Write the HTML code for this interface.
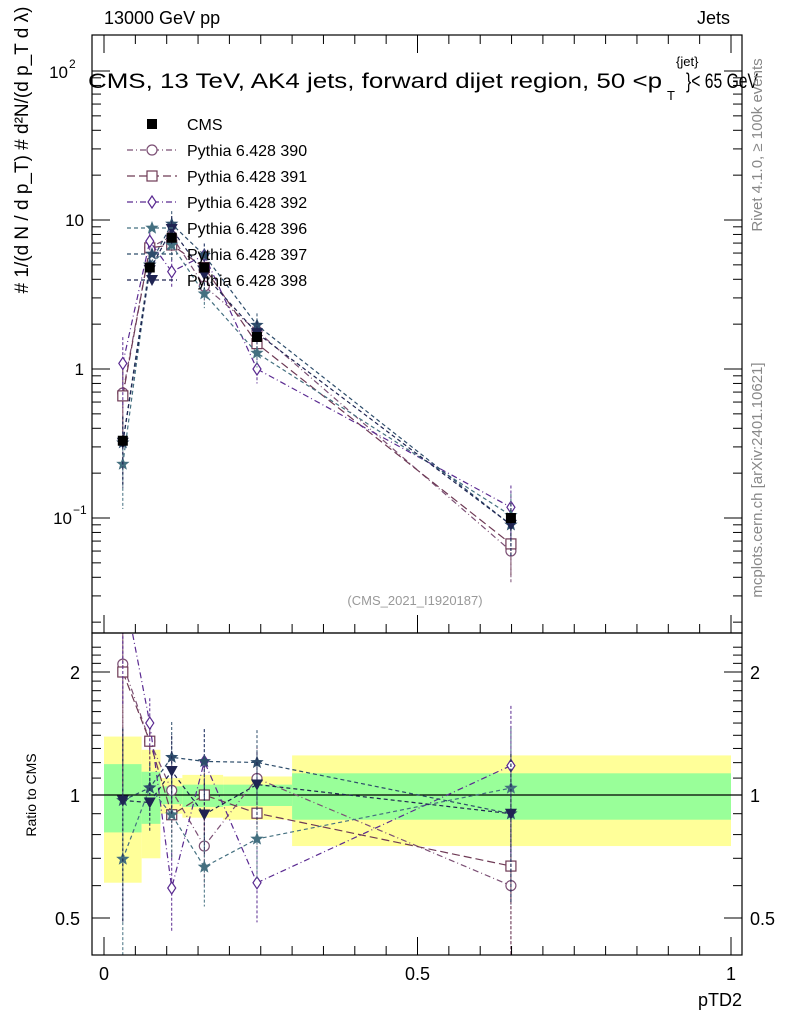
<!DOCTYPE html>
<html><head><meta charset="utf-8"><style>
body{margin:0;background:#fff;}
svg{font-family:"Liberation Sans",sans-serif;}
</style></head><body>
<svg id="c" width="786" height="1024"></svg>
<script>
const xs=[0.030,0.073,0.108,0.160,0.244,0.649];
const cmsVals=[0.33,4.8,7.6,4.8,1.64,0.10];
const cmsErr=[0.03,0.3,0.5,0.3,0.1,0.008];
const names=["Pythia 6.428 390","Pythia 6.428 391","Pythia 6.428 392","Pythia 6.428 396","Pythia 6.428 397","Pythia 6.428 398"];
const v390=[0.69,6.5,7.8,3.6,1.8,0.060];
const v391=[0.66,6.5,6.8,4.8,1.48,0.067];
const v392=[1.09,7.2,4.5,5.8,1.0,0.118];
const v396=[0.23,5.0,6.8,3.2,1.28,0.104];
const v397=[0.32,5.0,9.4,5.8,1.97,0.090];
const v398=[0.32,4.6,8.7,4.3,1.74,0.090];
const relErr=[0.5,0.15,0.22,0.2,0.2,0.4];
const binEdges=[0,0.06,0.09,0.125,0.19,0.3,1.0];
const yellowHi=[1.39,1.29,1.10,1.12,1.11,1.25];
const yellowLo=[0.61,0.70,0.90,0.88,0.87,0.75];
const greenHi=[1.19,1.14,1.05,1.06,1.06,1.13];
const greenLo=[0.81,0.85,0.95,0.935,0.94,0.87];
const xTicks=[0,0.5,1];
const xTickLabels=["0","0.5","1"];

const series=[v390,v391,v392,v396,v397,v398];
const colors=["#7b4f74","#6e3a55","#5a2a91","#447080","#2e4d6b","#1f2452"];
const dashes=["6,3,1,3","8,4","6,3,1,3","4,3","4,3","4,3"];
const markers=["circle","square","diamond","star","star","tri"];

const L=92,R=742,T=35,MB=633,RB=955;
const X=v=>104+627*v;
const Y=v=>369-149*Math.log10(v);
const YR=r=>795-408.6*Math.log10(r);
const svg=document.getElementById('c');
const NS="http://www.w3.org/2000/svg";
function mk(tag,attrs,parent,name){const e=document.createElementNS(NS,tag);for(const k in attrs)e.setAttribute(k,attrs[k]);


(parent||svg).appendChild(e);return e;}
function txt(s,x,y,opts,name){const t=mk('text',Object.assign({x:x,y:y,'font-size':16},opts||{}),svg,name);t.textContent=s;return t;}

const defs=mk('defs',{},svg,'defs');
const c1=mk('clipPath',{id:'cm'},defs,'clip-main');mk('rect',{x:L,y:T,width:R-L,height:MB-T},c1,'clip-rect');
const c2=mk('clipPath',{id:'cr'},defs,'clip-ratio');mk('rect',{x:L,y:MB,width:R-L,height:RB-MB},c2,'clip-rect');

const gR=mk('g',{'clip-path':'url(#cr)'},svg,'ratio-plot');
for(let i=0;i<6;i++){
 const x0=X(binEdges[i]),x1=X(binEdges[i+1]);
 mk('rect',{x:x0,y:YR(yellowHi[i]),width:x1-x0,height:YR(yellowLo[i])-YR(yellowHi[i]),fill:'#ffff99'},gR,'yellow-band');
 mk('rect',{x:x0,y:YR(greenHi[i]),width:x1-x0,height:YR(greenLo[i])-YR(greenHi[i]),fill:'#99ff99'},gR,'green-band');
}
mk('line',{x1:L,x2:R,y1:YR(1),y2:YR(1),stroke:'#000','stroke-width':1.3},gR,'unity-line');

function marker(g,type,x,y,col){
 const s=5;
 if(type==='circle')mk('circle',{cx:x,cy:y,r:s,fill:'#fff',stroke:col,'stroke-width':1.2},g,'marker');
 else if(type==='square')mk('rect',{x:x-s,y:y-s,width:2*s,height:2*s,fill:'#fff',stroke:col,'stroke-width':1.2},g,'marker');
 else if(type==='diamond')mk('polygon',{points:`${x},${y-6} ${x+4},${y} ${x},${y+6} ${x-4},${y}`,fill:'#fff',stroke:col,'stroke-width':1.2},g,'marker');
 else if(type==='tri')mk('polygon',{points:`${x-6},${y-5} ${x+6},${y-5} ${x},${y+6}`,fill:col},g,'marker');
 else if(type==='star'){let p=[];for(let k=0;k<10;k++){const a=-Math.PI/2+k*Math.PI/5,rr=k%2?3:7;p.push((x+rr*Math.cos(a)).toFixed(1)+','+(y+rr*Math.sin(a)).toFixed(1));}
  mk('polygon',{points:p.join(' '),fill:col},g,'marker');}
 else if(type==='fsquare')mk('rect',{x:x-5,y:y-5,width:10,height:10,fill:col},g,'marker');
}

const gM=mk('g',{'clip-path':'url(#cm)'},svg,'main-plot');
series.forEach((vals,si)=>{
 const col=colors[si];
 const gs=mk('g',{},gM,'series-'+names[si].split(' ')[2]);
 const gr=mk('g',{},gR,'ratio-series-'+names[si].split(' ')[2]);
 mk('polyline',{points:xs.map((x,i)=>X(x)+','+Y(vals[i])).join(' '),fill:'none',stroke:col,'stroke-dasharray':dashes[si],'stroke-width':1.2},gs,'series-line');
 mk('polyline',{points:xs.map((x,i)=>X(x)+','+YR(vals[i]/cmsVals[i])).join(' '),fill:'none',stroke:col,'stroke-dasharray':dashes[si],'stroke-width':1.2},gr,'ratio-line');
 xs.forEach((x,i)=>{
  const v=vals[i],e=relErr[i];
  mk('line',{x1:X(x),x2:X(x),y1:Y(v*(1+e)),y2:Y(Math.max(v*(1-e),1e-3)),stroke:col,'stroke-dasharray':'3,2','stroke-width':1},gs,'error-bar');
  const r=v/cmsVals[i];
  mk('line',{x1:X(x),x2:X(x),y1:YR(r*(1+e)),y2:YR(Math.max(r*(1-e),0.05)),stroke:col,'stroke-dasharray':'3,2','stroke-width':1},gr,'ratio-error-bar');
  marker(gs,markers[si],X(x),Y(v),col);
  marker(gr,markers[si],X(x),YR(r),col);
 });
});
xs.forEach((x,i)=>{
 mk('line',{x1:X(x),x2:X(x),y1:Y(cmsVals[i]+cmsErr[i]),y2:Y(cmsVals[i]-cmsErr[i]),stroke:'#000'},gM,'cms-error');
 marker(gM,'fsquare',X(x),Y(cmsVals[i]),'#000');
});

mk('rect',{x:L,y:T,width:R-L,height:MB-T,fill:'none',stroke:'#000','stroke-width':1.2},svg,'main-frame');
mk('rect',{x:L,y:MB,width:R-L,height:RB-MB,fill:'none',stroke:'#000','stroke-width':1.2},svg,'ratio-frame');

for(let d=-2;d<=2;d++)for(let m=1;m<10;m++){const v=m*Math.pow(10,d);const y=Y(v);if(y<T||y>MB)continue;
 const len=m===1?18:9;
 mk('line',{x1:L,x2:L+len,y1:y,y2:y,stroke:'#000'},svg,'y-tick');
 mk('line',{x1:R,x2:R-len,y1:y,y2:y,stroke:'#000'},svg,'y-tick');}
txt('10',84,226,{'text-anchor':'end','font-size':17},'y-tick-label');
txt('1',84,375,{'text-anchor':'end','font-size':17},'y-tick-label');
txt('10',72,524,{'text-anchor':'end','font-size':17},'y-tick-label');
txt('−1',73,514,{'font-size':12},'y-tick-label-exp');
txt('10',68,78,{'text-anchor':'end','font-size':17},'y-tick-label');
txt('2',69,68,{'font-size':12},'y-tick-label-exp');
for(let r=0.4;r<=2.4;r+=0.1){const y=YR(r);if(y<MB||y>RB)continue;const big=[0.5,1,2].some(q=>Math.abs(q-r)<1e-6);const len=big?18:9;
 mk('line',{x1:L,x2:L+len,y1:y,y2:y,stroke:'#000'},svg,'ratio-tick');mk('line',{x1:R,x2:R-len,y1:y,y2:y,stroke:'#000'},svg,'ratio-tick');}
[[2,'2'],[1,'1'],[0.5,'0.5']].forEach(([r,s])=>{txt(s,80,YR(r)+7,{'text-anchor':'end','font-size':18},'ratio-tick-label');txt(s,750,YR(r)+7,{'font-size':18},'ratio-tick-label-right');});
for(let v=0;v<=1.0001;v+=0.05){const x=X(v);const big=Math.abs(v*2-Math.round(v*2))<1e-6;const len=big?18:9;
 mk('line',{x1:x,x2:x,y1:MB,y2:MB-len,stroke:'#000'},svg,'x-tick');mk('line',{x1:x,x2:x,y1:RB,y2:RB-len,stroke:'#000'},svg,'x-tick');mk('line',{x1:x,x2:x,y1:T,y2:T+len,stroke:'#000'},svg,'x-tick');}
xTicks.forEach((v,i)=>txt(xTickLabels[i],X(v),980,{'text-anchor':'middle','font-size':18},'x-tick-label'));

txt('13000 GeV pp',104,24,{'font-size':18},'header-left');
txt('Jets',730,24,{'text-anchor':'end','font-size':18},'header-right');
txt('CMS, 13 TeV, AK4 jets, forward dijet region, 50 <p',88,88,{'font-size':21,textLength:574,lengthAdjust:'spacingAndGlyphs'},'plot-title');
txt('{jet}',676,66,{'font-size':13},'title-sup');
txt('T',667,100,{'font-size':13},'title-sub');
txt('}< 65 GeV',686,88,{'font-size':21,textLength:72,lengthAdjust:'spacingAndGlyphs'},'title-end');
txt('pTD2',742,1006,{'text-anchor':'end','font-size':18},'x-axis-title');
txt('Ratio to CMS',36,795,{'text-anchor':'middle','font-size':14,transform:'rotate(-90 36 795)'},'ratio-y-title');
txt('# 1/(d N / d p_T)  # d²N/(d p_T d λ)',28,150,{'text-anchor':'middle','font-size':19,transform:'rotate(-90 28 150)'},'y-axis-title');
txt('Rivet 4.1.0, ≥ 100k events',762,145,{'text-anchor':'middle','font-size':15,fill:'#888',transform:'rotate(-90 762 145)'},'rivet-label');
txt('mcplots.cern.ch [arXiv:2401.10621]',762,480,{'text-anchor':'middle','font-size':15,fill:'#888',transform:'rotate(-90 762 480)'},'mcplots-label');
txt('(CMS_2021_I1920187)',415,605,{'text-anchor':'middle','font-size':13,fill:'#999'},'analysis-id');

marker(svg,'fsquare',152,124,'#000');
txt('CMS',187,130,{'font-size':16},'legend-entry-cms');
names.forEach((n,i)=>{const y=150+26*i;
 mk('line',{x1:127,x2:177,y1:y,y2:y,stroke:colors[i],'stroke-dasharray':dashes[i],'stroke-width':1.2},svg,'legend-line');
 marker(svg,markers[i],152,y,colors[i]);
 txt(n,187,y+6,{'font-size':16},'legend-entry');});
</script>
</body></html>
